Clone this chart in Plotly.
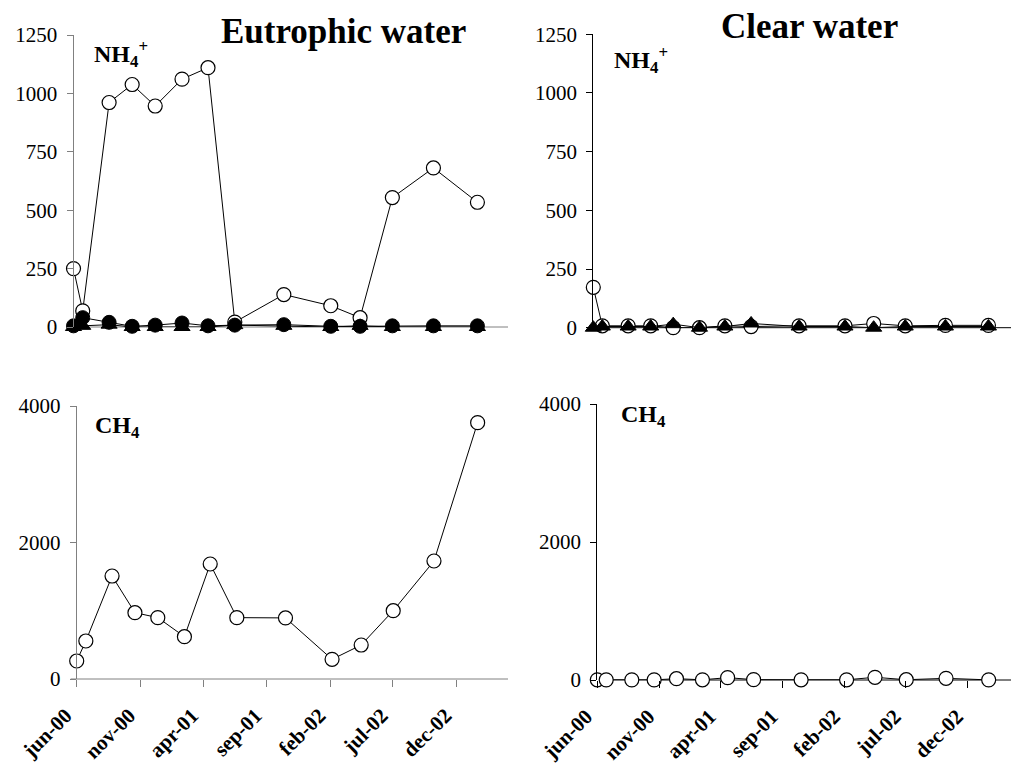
import plotly.graph_objects as go

# Sampling dates (shared by both sites)
dates = ["2000-06-01", "2000-06-23", "2000-08-25", "2000-10-19", "2000-12-13",
         "2001-02-15", "2001-04-18", "2001-06-21", "2001-10-16", "2002-02-05",
         "2002-04-16", "2002-07-02", "2002-10-08", "2003-01-21"]

tick_dates = ["2000-06-01", "2000-11-01", "2001-04-01", "2001-09-01",
              "2002-02-01", "2002-07-01", "2002-12-01"]
tick_text = ["jun-00", "nov-00", "apr-01", "sep-01", "feb-02", "jul-02", "dec-02"]

# NH4+ concentrations
eu_nh4_open = [250, 69, 961, 1038, 946, 1061, 1110, 21, 139, 91, 40, 554, 681, 534]
eu_nh4_filled = [5, 40, 20, 3, 8, 17, 5, 8, 10, 3, 3, 5, 5, 5]
eu_nh4_tri = [0, 5, 10, 0, 0, 0, 0, 8, 5, 0, 5, 0, 0, 0]
cl_nh4_open = [172, 8, 8, 8, 0, 0, 8, 5, 8, 8, 18, 8, 10, 10]
cl_nh4_tri = [0, 5, 5, 5, 15, 0, 5, 18, 5, 5, 0, 5, 5, 5]

# CH4 concentrations
eu_ch4 = [264, 557, 1509, 972, 899, 620, 1685, 899, 895, 288, 498, 1001, 1729, 3756]
cl_ch4 = [3, 2, 2, 2, 19, 3, 34, 5, 3, 3, 39, 4, 24, 2]

nh4_ticks = [0, 250, 500, 750, 1000, 1250]
ch4_ticks = [0, 2000, 4000]

W, H = 1011, 765
SERIF = "Liberation Serif, Times New Roman, serif"
GREY = "#808080"


def px_x(a, b):
    return [a / W, b / W]


def px_y(top, bottom):
    return [1 - bottom / H, 1 - top / H]


fig = go.Figure()

open_marker = dict(symbol="circle", size=14, color="white", line=dict(color="black", width=1.2))
filled_marker = dict(symbol="circle", size=14, color="black", line=dict(color="black", width=1))
tri_marker = dict(symbol="triangle-up", size=14, color="black", line=dict(color="black", width=1))
line_style = dict(color="black", width=1)


def add(xa, ya, y, marker):
    fig.add_trace(go.Scatter(x=dates, y=y, mode="lines+markers", xaxis=xa, yaxis=ya,
                             line=line_style, marker=marker, cliponaxis=False,
                             showlegend=False))


# Eutrophic NH4+
add("x", "y", eu_nh4_open, open_marker)
add("x", "y", eu_nh4_filled, filled_marker)
add("x", "y", eu_nh4_tri, tri_marker)
# Clear NH4+
add("x2", "y2", cl_nh4_open, open_marker)
add("x2", "y2", cl_nh4_tri, tri_marker)
# CH4
add("x3", "y3", eu_ch4, open_marker)
add("x4", "y4", cl_ch4, open_marker)

left_range = ["2000-06-01", "2003-04-04"]
right_range = ["2000-06-01", "2003-03-17"]

ytick_font = dict(family=SERIF, size=21, color="black")
xtick_font = dict(family=SERIF, size=21, color="black", weight="bold")


def xaxis(domain, rng, anchor, labels, color):
    d = dict(domain=domain, range=rng, anchor=anchor, type="date", showgrid=False,
             zeroline=False, showline=False, fixedrange=True, automargin=False)
    if labels:
        d.update(tickmode="array", tickvals=tick_dates, ticktext=tick_text, ticks="outside",
                 ticklen=7, tickcolor=color, tickwidth=1, tickangle=-45, tickfont=xtick_font,
                 showticklabels=True, ticklabelstandoff=8, ticklabelshift=-11)
    else:
        d.update(ticks="", showticklabels=False)
    return d


def yaxis(domain, rng, anchor, vals, color):
    return dict(domain=domain, range=rng, anchor=anchor, tickmode="array", tickvals=vals,
                showgrid=False, zeroline=False, showline=True, linecolor=color, linewidth=1,
                ticks="outside", ticklen=6, tickcolor=color, tickwidth=1, tickfont=ytick_font,
                ticklabelstandoff=5, fixedrange=True, automargin=False)


fig.update_layout(
    width=W, height=H, margin=dict(l=0, r=0, t=0, b=0, autoexpand=False),
    paper_bgcolor="white", plot_bgcolor="white", showlegend=False,
    xaxis=xaxis(px_x(73.5, 508), left_range, "y", False, GREY),
    yaxis=yaxis(px_y(35, 327), [0, 1250], "x", nh4_ticks, GREY),
    xaxis2=xaxis(px_x(593.3, 1011), right_range, "y2", False, "black"),
    yaxis2=yaxis(px_y(34.3, 327.7), [0, 1250], "x2", nh4_ticks, "black"),
    xaxis3=xaxis(px_x(76.7, 508), left_range, "y3", True, GREY),
    yaxis3=yaxis(px_y(406, 679), [0, 4000], "x3", ch4_ticks, GREY),
    xaxis4=xaxis(px_x(597.3, 1011), right_range, "y4", True, "black"),
    yaxis4=yaxis(px_y(404, 680), [0, 4000], "x4", ch4_ticks, "black"),
)

# Horizontal axis lines, running slightly past the vertical axis
for i, color in zip(["", "2", "3", "4"], [GREY, "black", GREY, "black"]):
    fig.add_shape(type="line", xref=f"x{i} domain", yref=f"y{i} domain",
                  x0=-0.014, x1=1, y0=0, y1=0, line=dict(color=color, width=1), layer="below")

title_font = dict(family=SERIF, size=35, color="black", weight="bold")
label_font = dict(family=SERIF, size=24, color="black", weight="bold")

fig.add_annotation(text="Eutrophic water", xref="paper", yref="paper", x=343 / W, y=1 - 32 / H,
                   xanchor="center", yanchor="middle", showarrow=False, font=title_font)
fig.add_annotation(text="Clear water", xref="paper", yref="paper", x=809 / W, y=1 - 27 / H,
                   xanchor="center", yanchor="middle", showarrow=False, font=title_font)

for x0, yc, txt in [(92, 54, "NH<sub>4</sub><sup>+</sup>"), (612, 60, "NH<sub>4</sub><sup>+</sup>"),
                    (93, 427, "CH<sub>4</sub>"), (619, 416, "CH<sub>4</sub>")]:
    fig.add_annotation(text=txt, xref="paper", yref="paper", x=x0 / W, y=1 - yc / H,
                       xanchor="left", yanchor="middle", showarrow=False, font=label_font)

fig.write_html("out.html")
